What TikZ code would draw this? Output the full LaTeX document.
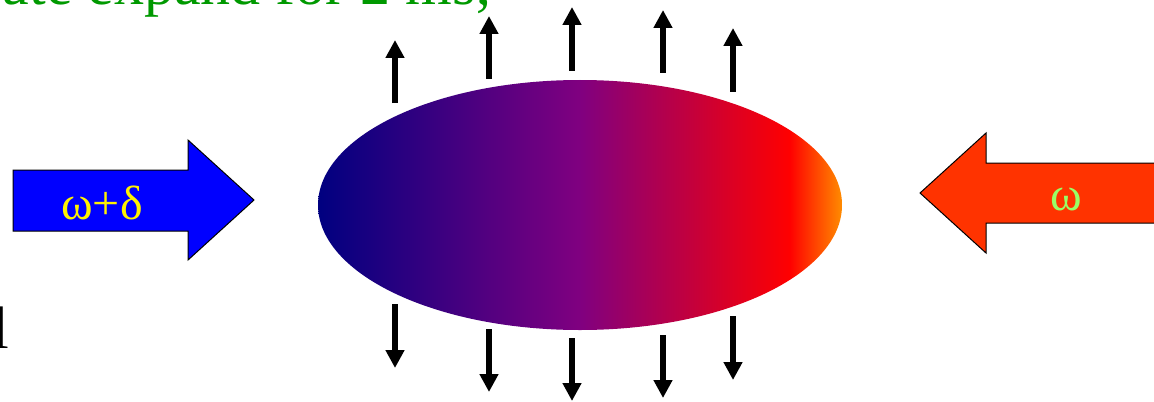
\documentclass[tikz,border=0pt]{standalone}
\usepackage{fontspec}
\setmainfont{Liberation Serif}
\usetikzlibrary{shapes.geometric,arrows.meta}
\definecolor{cloudnavy}{RGB}{0,0,128}
\definecolor{cloudpurple}{RGB}{128,0,128}
\definecolor{cloudred}{RGB}{255,0,0}
\definecolor{cloudorange}{RGB}{255,140,0}
\definecolor{textgreen}{RGB}{0,153,0}
\definecolor{laserblue}{RGB}{0,0,255}
\definecolor{laserred}{RGB}{255,51,0}
\definecolor{labelgreen}{RGB}{153,255,102}
\pgfdeclarehorizontalshading{cloudshade}{100bp}{color(0bp)=(cloudnavy); color(25bp)=(cloudnavy); color(50bp)=(cloudpurple); color(70bp)=(cloudred); color(75bp)=(cloudorange); color(100bp)=(cloudorange)}

\begin{document}
\begin{tikzpicture}[x=0.5pt, y=-0.5pt, font=\fontsize{30pt}{36pt}\selectfont,
  kick/.style={line width=3pt, -{Triangle[width=9pt,length=9pt]}},
  laser/.style={draw=black, line width=0.5pt},
  freq/.style={font=\fontsize{24pt}{28pt}\selectfont, inner sep=0pt, anchor=base}]
\useasboundingbox (0,0) rectangle (1154,401);
% released cloud, shaded from blue side to red side
\node[ellipse, shade, shading=cloudshade, inner sep=0pt,
  minimum width=262pt, minimum height=125pt] (cloud) at (580,205) {};
% expansion arrows, up and down
\draw[kick] (395,103) -- (395,40);
\draw[kick] (489,79) -- (489,16);
\draw[kick] (572,71) -- (572,7);
\draw[kick] (663,73) -- (663,10);
\draw[kick] (733,92) -- (733,28);
\draw[kick] (395,304) -- (395,368);
\draw[kick] (489,329) -- (489,392);
\draw[kick] (572,338) -- (572,401);
\draw[kick] (663,335) -- (663,398);
\draw[kick] (733,316) -- (733,380);
% the two laser beams
\fill[laser, fill=laserblue] (13,170) -- (188,170) -- (188,140) -- (254,200)
  -- (188,260) -- (188,231) -- (13,231) -- cycle;
\fill[laser, fill=laserred] (1170,163) -- (986,163) -- (986,133) -- (920,193)
  -- (986,253) -- (986,223) -- (1170,223) -- cycle;
\node[freq, text=yellow] (bluefreq) at (102,219) {ω+δ};
\node[freq, text=labelgreen] (redfreq) at (1066,210) {ω};
% text cut off at the edges
\node[anchor=base east, inner sep=0pt, text=textgreen] (step) at (493,5) {ate expand for 2 ms;};
\node[anchor=base, inner sep=0pt] (edge) at (1,348) {l};
\end{tikzpicture}
\end{document}
